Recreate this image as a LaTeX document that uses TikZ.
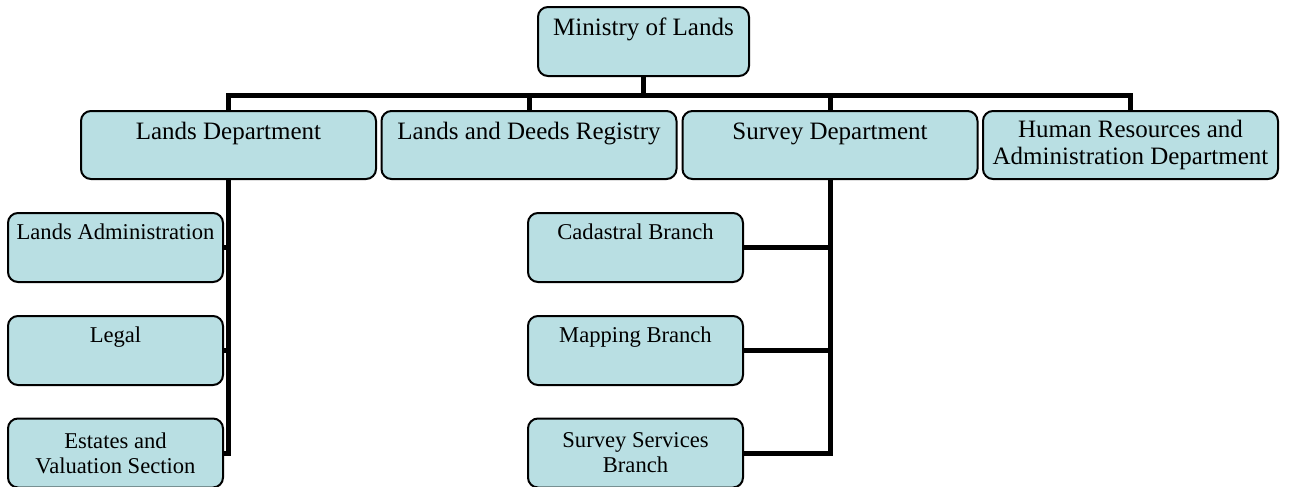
\documentclass[tikz,border=0pt]{standalone}
\usepackage{fontspec}
\setmainfont{Liberation Serif}
\usepackage{tikz}
\definecolor{boxfill}{RGB}{185,223,227}
\tikzset{
  unit/.style={draw=black, line width=1pt, fill=boxfill, rounded corners=5pt,
    inner xsep=2pt, inner ysep=0pt, align=center,
    minimum width=147.5pt, minimum height=34pt,
    font=\fontsize{12.5}{13.5}\selectfont},
  sect/.style={unit, minimum width=107.5pt, minimum height=34.5pt,
    font=\fontsize{11.3}{12.5}\selectfont},
  oneline/.style 2 args={text height=#1, text depth=#2},
  link/.style={line width=2.5pt}
}
\begin{document}
\begin{tikzpicture}[x=0.5pt, y=-0.5pt]
  \useasboundingbox (0,0) rectangle (1292,487);
  % ministry and departments
  \node[unit, oneline={14pt}{20.5pt}, minimum width=105.5pt, minimum height=34.5pt] (ministry) at (643.5,41.5) {Ministry of Lands};
  \node[unit, oneline={14pt}{20pt}] (landsdep) at (228.5,145) {Lands Department};
  \node[unit, oneline={14pt}{20pt}] (deeds) at (529,145) {Lands and Deeds Registry};
  \node[unit, oneline={14pt}{20pt}] (survey) at (830,145) {Survey Department};
  \node[unit] (hr) at (1130.5,145) {Human Resources and\\Administration Department};
  % sections under lands
  \node[sect, oneline={13pt}{21.5pt}] (landsadmin) at (115.5,247.5) {Lands Administration};
  \node[sect, oneline={13pt}{21.5pt}] (legal) at (115.5,350.5) {Legal};
  \node[sect] (estates) at (115.5,453) {Estates and\\Valuation Section};
  % branches under survey
  \node[sect, oneline={13pt}{21.5pt}] (cadastral) at (635.5,247.5) {Cadastral Branch};
  \node[sect, oneline={13pt}{21.5pt}] (mapping) at (635.5,350.5) {Mapping Branch};
  \node[sect] (services) at (635.5,453) {Survey Services\\Branch};
  % connectors
  \foreach \d in {landsdep,deeds,survey,hr}
    \draw[link] (ministry.south) -- ++(0,18) -| (\d.north);
  \foreach \s in {landsadmin,legal,estates}
    \draw[link] (landsdep.south) |- (\s.east);
  \foreach \s in {cadastral,mapping,services}
    \draw[link] (survey.south) |- (\s.east);
\end{tikzpicture}
\end{document}
